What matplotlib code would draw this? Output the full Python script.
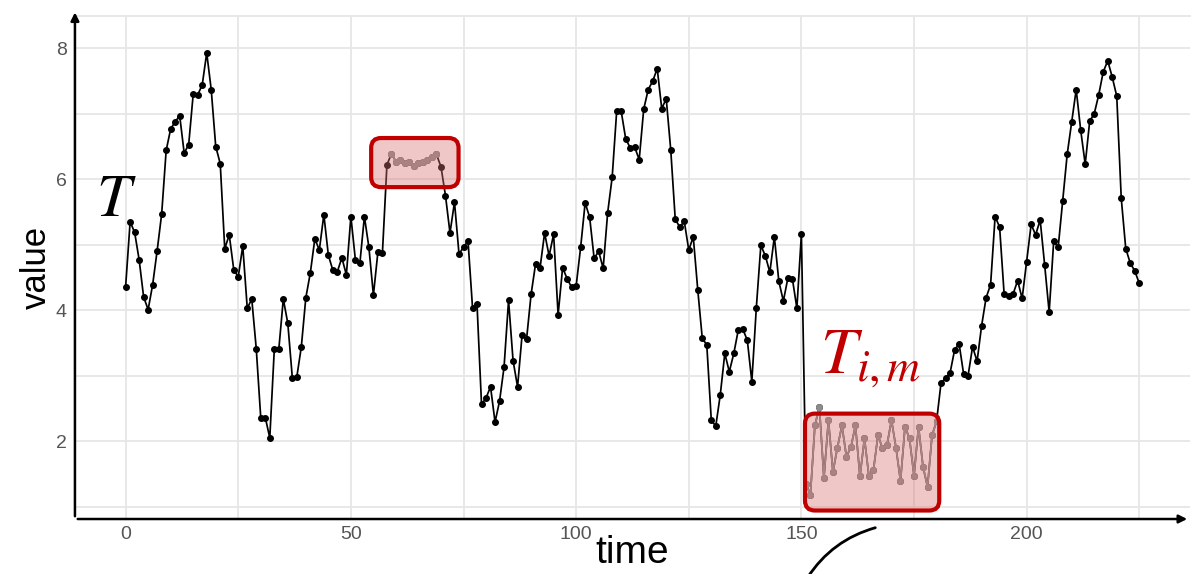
import numpy as np
import matplotlib.pyplot as plt
from matplotlib.patches import FancyBboxPatch

# series, one value per time step (0..225)
values = [
    4.36, 5.35, 5.19, 4.77, 4.20, 4.01, 4.39, 4.91, 5.47, 6.44,
    6.77, 6.88, 6.97, 6.40, 6.53, 7.30, 7.29, 7.44, 7.93, 7.37,
    6.50, 6.24, 4.94, 5.15, 4.62, 4.51, 4.98, 4.03, 4.17, 3.41,
    2.35, 2.36, 2.05, 3.40, 3.40, 4.17, 3.80, 2.97, 2.98, 3.44,
    4.19, 4.57, 5.09, 4.92, 5.46, 4.84, 4.61, 4.59, 4.80, 4.54,
    5.43, 4.77, 4.72, 5.43, 4.96, 4.23, 4.89, 4.87, 6.22, 6.39,
    6.27, 6.30, 6.25, 6.27, 6.21, 6.25, 6.27, 6.29, 6.34, 6.38,
    6.19, 5.75, 5.18, 5.65, 4.86, 4.96, 5.06, 4.04, 4.09, 2.56,
    2.66, 2.83, 2.29, 2.61, 3.13, 4.15, 3.23, 2.83, 3.62, 3.56,
    4.24, 4.71, 4.65, 5.18, 4.83, 5.16, 3.93, 4.65, 4.48, 4.35,
    4.37, 4.96, 5.64, 5.42, 4.79, 4.90, 4.64, 5.49, 6.03, 7.04,
    7.04, 6.62, 6.48, 6.49, 6.30, 7.07, 7.37, 7.50, 7.69, 7.08,
    7.23, 6.45, 5.39, 5.27, 5.36, 4.92, 5.12, 4.31, 3.57, 3.47,
    2.32, 2.23, 2.71, 3.34, 3.06, 3.34, 3.70, 3.71, 3.54, 2.91,
    4.04, 4.99, 4.83, 4.58, 5.12, 4.44, 4.14, 4.49, 4.48, 4.03,
    5.16, 1.35, 1.18, 2.24, 2.52, 1.43, 2.32, 1.53, 1.90, 2.24,
    1.76, 1.91, 2.24, 1.46, 2.04, 1.46, 1.56, 2.09, 1.89, 1.94,
    2.32, 1.90, 1.39, 2.22, 2.04, 1.47, 2.22, 1.61, 1.30, 2.09,
    2.30, 2.89, 2.96, 3.04, 3.39, 3.49, 3.03, 3.00, 3.44, 3.22,
    3.76, 4.19, 4.39, 5.43, 5.27, 4.25, 4.21, 4.25, 4.45, 4.18,
    4.74, 5.31, 5.15, 5.38, 4.69, 3.97, 5.05, 4.96, 5.67, 6.38,
    6.87, 7.37, 6.75, 6.23, 6.89, 7.00, 7.29, 7.64, 7.81, 7.56,
    7.27, 5.71, 4.94, 4.72, 4.60, 4.41,
]
time = np.arange(len(values))
values = np.array(values)

# highlighted subsequences (first, last index)
sub1 = (59, 69)
sub2 = (151, 180)

x_ticks = [0, 50, 100, 150, 200]
y_ticks = [2, 4, 6, 8]

plt.rcParams['font.family'] = ['Liberation Sans', 'DejaVu Sans']
plt.rcParams['mathtext.fontset'] = 'stix'

fig = plt.figure(figsize=(12.01, 5.74), dpi=100)
ax = fig.add_axes([0.0624, 0.0958, 0.9284, 0.877])

ax.plot(time, values, color='black', lw=1.25, marker='o', ms=4, zorder=3)
for a, b in (sub1, sub2):
    ax.plot(time[a:b + 1], values[a:b + 1], color='#8c8c8c', lw=1.25,
            marker='o', ms=4, zorder=4)

ax.set_xlim(-11.25, 236.25)
ax.set_ylim(0.81, 8.5)
ax.set_xticks(x_ticks)
ax.set_xticks(np.arange(25, 230, 50), minor=True)
ax.set_yticks(y_ticks)
ax.set_yticks([1, 3, 5, 7], minor=True)
ax.grid(True, which='both', color='#e6e6e6', lw=1.3, zorder=0)
ax.tick_params(which='both', length=0, labelsize=14, labelcolor='#555555')
ax.tick_params(axis='x', pad=5)
ax.tick_params(axis='y', pad=6)
for s in ['left', 'bottom', 'right']:
    ax.spines[s].set_visible(False)
ax.spines['top'].set_color('#e6e6e6')
ax.spines['top'].set_linewidth(1.3)

ax.set_xlabel('time', fontsize=28, labelpad=-6)
ax.set_ylabel('value', fontsize=25, labelpad=2)

# axis arrows
ax.annotate('', xy=(1.0, 0), xytext=(0, 0), xycoords='axes fraction',
            arrowprops=dict(arrowstyle='-|>', color='black', lw=1.8, mutation_scale=12),
            annotation_clip=False)
ax.annotate('', xy=(0, 1.012), xytext=(0, 0), xycoords='axes fraction',
            arrowprops=dict(arrowstyle='-|>', color='black', lw=1.8, mutation_scale=12),
            annotation_clip=False)

# highlight boxes
asp = (ax.get_ylim()[1] - ax.get_ylim()[0]) / 503 / ((ax.get_xlim()[1] - ax.get_xlim()[0]) / 1115)
for (x0, x1, y0, y1) in [(54.5, 73.9, 5.88, 6.63), (150.8, 180.6, 0.94, 2.42)]:
    box = FancyBboxPatch((x0, y0), x1 - x0, y1 - y0,
                         boxstyle='round,pad=0,rounding_size=2.2',
                         mutation_aspect=asp,
                         facecolor=(0.85, 0.45, 0.45, 0.4),
                         edgecolor='#c00000', lw=3, zorder=5)
    ax.add_patch(box)

ax.text(-6.5, 5.44, r'$T$', fontsize=44, color='black', zorder=6)
ax.text(154.2, 3.04, r'$T_{i,m}$', fontsize=47, color='#c00000', zorder=6)

# curved pointer at the bottom
ax.annotate('', xy=(878, 47), xytext=(806, -6), xycoords='figure pixels',
            arrowprops=dict(arrowstyle='-', color='black', lw=2,
                            connectionstyle='arc3,rad=-0.2'),
            annotation_clip=False)

plt.savefig('out.png', dpi=100)
